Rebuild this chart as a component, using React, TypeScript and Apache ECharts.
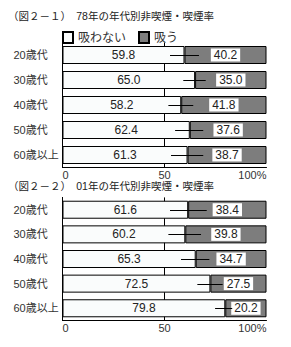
import React, { useEffect, useRef } from "react";
import * as echarts from "echarts";

const categories = ["20歳代", "30歳代", "40歳代", "50歳代", "60歳以上"];
const seriesNames = ["吸わない", "吸う"];
const titles = ["（図２－１）　78年の年代別非喫煙・喫煙率", "（図２－２）　01年の年代別非喫煙・喫煙率"];

// 1978
const nonSmoke78 = [59.8, 65.0, 58.2, 62.4, 61.3];
const smoke78 = [40.2, 35.0, 41.8, 37.6, 38.7];
const lineStart78 = [52.7, 59.2, 51.9, 55.2, 53.2];
const lineEnd78 = [66.9, 70.2, 64.1, 69.0, 69.0];

// 2001
const nonSmoke01 = [61.6, 60.2, 65.3, 72.5, 79.8];
const smoke01 = [38.4, 39.8, 34.7, 27.5, 20.2];
const lineStart01 = [52.7, 51.9, 58.1, 66.1, 74.8];
const lineEnd01 = [70.7, 67.9, 72.0, 78.5, 83.2];

const tickValues = [0, 50, 100];

const FONT = '"Liberation Sans", "Noto Sans CJK JP", sans-serif';

export default function App() {
  const ref = useRef<HTMLDivElement>(null);
  useEffect(() => {
    document.body.style.margin = "0";
    const chart = echarts.init(ref.current!, null, { renderer: "svg" });

    const grids = [
      { left: 62.5, right: 24.5, top: 42.5, height: 125 },
      { left: 62.5, right: 24.5, top: 197.4, height: 123.2 },
    ];

    const xAxes = grids.map((_, i) => ({
      type: "value",
      gridIndex: i,
      min: tickValues[0],
      max: tickValues[tickValues.length - 1],
      interval: 50,
      axisLine: { show: true, lineStyle: { color: "#000", width: 1 } },
      axisTick: { show: false },
      splitLine: {
        show: true,
        lineStyle: { color: ["rgba(0,0,0,0)", "#000", "rgba(0,0,0,0)"], width: 1 },
      },
      axisLabel: {
        margin: 2,
        fontSize: 11,
        lineHeight: 11,
        color: "#333",
        fontFamily: FONT,
        alignMinLabel: "left",
        alignMaxLabel: "right",
        formatter: (v: number) => (v === 100 ? "100%" : String(v)),
      },
    }));

    const yAxes = grids.map((_, i) => ({
      type: "category",
      gridIndex: i,
      data: categories,
      inverse: true,
      axisLine: { show: true, lineStyle: { color: "#000", width: 1 } },
      axisTick: { show: false },
      splitLine: { show: false },
      axisLabel: {
        align: "left",
        margin: 49,
        fontSize: 11,
        color: "#333",
        fontFamily: FONT,
      },
    }));

    const makeBars = (idx: number, non: number[], smk: number[]) => [
      {
        name: seriesNames[0],
        type: "bar",
        stack: "s" + idx,
        xAxisIndex: idx,
        yAxisIndex: idx,
        barWidth: 18,
        z: 2,
        data: non,
        itemStyle: { color: "#fafcfc", borderColor: "#000", borderWidth: 1 },
        label: {
          show: true,
          position: "inside",
          color: "#222",
          fontSize: 12,
          fontFamily: FONT,
          formatter: (p: any) => Number(p.value).toFixed(1),
        },
      },
      {
        name: seriesNames[1],
        type: "bar",
        stack: "s" + idx,
        xAxisIndex: idx,
        yAxisIndex: idx,
        barWidth: 18,
        z: 2,
        data: smk,
        itemStyle: { color: "#7d7d7d", borderColor: "#000", borderWidth: 1 },
        label: {
          show: true,
          position: "inside",
          color: "#222",
          fontSize: 12,
          fontFamily: FONT,
          backgroundColor: "#fff",
          padding: [1, 3, 0, 3],
          formatter: (p: any) => Number(p.value).toFixed(1),
        },
      },
    ];

    const makeLines = (idx: number, starts: number[], ends: number[]) => ({
      type: "custom",
      xAxisIndex: idx,
      yAxisIndex: idx,
      z: 3,
      silent: true,
      encode: { x: [1, 2], y: 0 },
      data: starts.map((s, i) => [i, s, ends[i]]),
      renderItem: (params: any, api: any) => {
        const cat = api.value(0);
        const p1 = api.coord([api.value(1), cat]);
        const p2 = api.coord([api.value(2), cat]);
        const y = Math.round(p1[1]) + 0.5;
        return {
          type: "line",
          shape: { x1: p1[0], y1: y, x2: p2[0], y2: y },
          style: { stroke: "#000", lineWidth: 1 },
        };
      },
    });

    chart.setOption({
      animation: false,
      backgroundColor: "#fff",
      textStyle: { fontFamily: FONT },
      legend: {
        data: seriesNames,
        left: 62,
        top: 31,
        itemWidth: 10,
        itemHeight: 11,
        itemGap: 12,
        icon: "rect",
        padding: 0,
        textStyle: { fontSize: 12, color: "#333", fontFamily: FONT },
      },
      graphic: [
        {
          type: "text",
          left: 8,
          top: 11,
          style: { text: titles[0], fontSize: 10.5, lineHeight: 10, fill: "#222", fontFamily: FONT },
        },
        {
          type: "text",
          left: 8,
          top: 181,
          style: { text: titles[1], fontSize: 10.5, lineHeight: 10, fill: "#222", fontFamily: FONT },
        },
      ],
      grid: grids,
      xAxis: xAxes,
      yAxis: yAxes,
      series: [
        ...makeBars(0, nonSmoke78, smoke78),
        ...makeBars(1, nonSmoke01, smoke01),
        makeLines(0, lineStart78, lineEnd78),
        makeLines(1, lineStart01, lineEnd01),
      ],
    } as any);
    return () => chart.dispose();
  }, []);
  return <div ref={ref} style={{ width: 291, height: 347 }} />;
}
